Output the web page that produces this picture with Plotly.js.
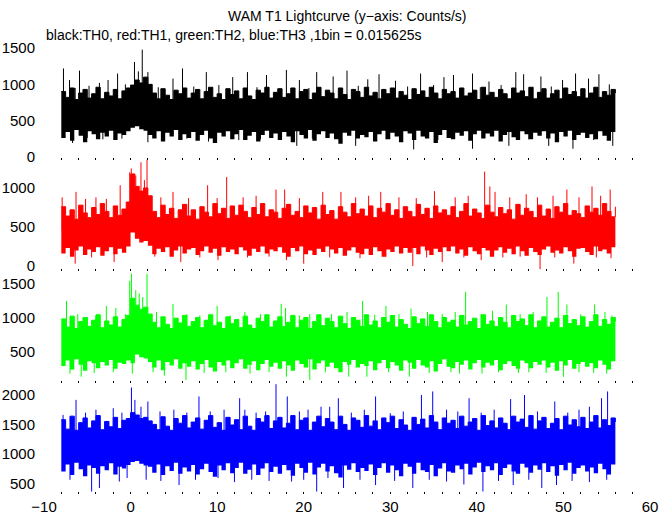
<!DOCTYPE html>
<html>
<head>
<meta charset="utf-8">
<script src="https://cdn.plot.ly/plotly-3.0.1.min.js"></script>
<style>html,body{margin:0;padding:0;background:#fff;}#chart{width:672px;height:515px;}</style>
</head>
<body>
<div id="chart"></div>
<script>
// Time bins: envelopes sampled every 0.5 s starting at -8 s
const binStart = -8;
const binWidth = 0.5;

// ---- TH0 (black) ----
const th0Hi = [900,820,950,790,880,930,810,870,960,800,
  890,840,930,800,910,950,990,1060,1020,1100,
  1000,880,800,940,850,790,920,870,950,810,
  880,930,800,900,960,820,870,790,940,860,
  910,800,950,840,790,920,880,960,810,890,
  940,820,870,950,800,900,930,790,880,960,
  830,920,880,800,950,860,790,930,900,820,
  960,840,890,800,930,870,950,810,900,850,
  790,940,860,910,820,960,880,800,930,870,
  900,810,950,840,880,920,790,960,850,890,
  820,930,870,800,950,880,910,830,960,800,
  890,940,810,870,920,800,950,860,900,830,
  940,810,880,960,820,900,850,930,880];
const th0Lo = [260,340,220,370,290,200,350,310,240,330,
  280,360,230,320,300,350,400,420,380,360,
  300,250,350,210,330,280,370,230,310,260,
  340,220,300,360,250,190,330,280,350,240,
  310,370,230,290,340,210,300,360,260,320,
  230,340,280,200,350,300,250,370,220,310,
  350,260,320,240,180,330,290,360,250,300,
  270,340,210,310,360,240,330,280,200,350,
  320,230,360,280,250,340,190,300,370,260,
  240,330,290,350,220,310,360,250,320,280,
  360,210,300,340,270,230,350,310,240,330,
  290,350,250,320,200,340,280,360,230,300,
  330,260,310,240,350,290,220,340,300];
const th0SpikeT = [-7.75,-7.05,-6.4,-5.9,-4.8,-3.6,-2.6,-1.5,-0.6,0.45,0.9,1.35,2.0,3.2,4.9,6.0,7.3,8.75,10.2,11.8,13.5,14.6,15.7,18.0,19.5,20.6,21.5,23.4,25.0,26.3,27.4,28.7,30.6,32.0,33.5,35.0,36.2,37.3,39.5,40.4,41.4,42.8,44.5,45.4,47.4,48.6,49.9,51.4,52.9,54.1,55.3];
const th0SpikeV = [1220,1060,950,1190,980,1020,1060,1150,1000,1310,1180,1480,1170,960,1080,1220,970,1170,990,1100,1170,960,1130,1200,1060,950,1170,1110,1190,980,1070,1140,1050,970,1150,990,1100,1130,1150,960,1040,990,1170,1140,1110,970,1060,1150,1080,1140,1000];
const th0DipT = [-6.7,-5.0,-3.2,-1.0,2.0,3.6,6.5,9.0,12.5,15.0,19.2,21.0,26.0,29.5,32.7,35.5,39.5,43.7,46.0,48.3,51.1,53.5,55.7];
const th0DipV = [190,260,240,250,200,230,250,210,230,240,150,250,150,240,100,230,110,150,240,150,110,230,150];

// ---- TH1 (red) ----
const th1Hi = [760,640,720,600,780,680,620,750,660,800,
  700,620,770,650,730,820,1180,1020,960,1000,
  900,700,620,780,660,740,610,720,790,640,
  720,600,760,690,630,800,670,740,610,770,
  650,780,700,620,750,660,800,630,720,690,
  610,740,790,650,700,620,770,680,750,600,
  780,660,710,600,760,690,630,800,670,730,
  640,770,620,740,690,800,650,720,610,760,
  700,630,790,660,740,610,770,680,720,650,
  760,620,700,800,640,730,680,610,780,690,
  630,750,670,720,600,790,650,740,700,620,
  780,640,730,610,760,690,800,650,710,670,
  620,770,690,740,650,800,700,630,760];
const th1Lo = [160,230,120,200,250,140,210,180,240,130,
  190,240,150,220,170,250,430,350,300,320,
  260,150,220,180,240,120,200,250,160,210,
  230,140,190,250,170,220,130,240,180,210,
  150,240,200,130,220,180,250,160,210,190,
  240,170,120,230,190,250,150,200,140,220,
  180,250,210,160,230,130,200,240,170,150,
  220,140,240,190,120,210,180,250,160,230,
  170,230,150,250,200,140,220,180,240,190,
  250,160,210,130,240,190,150,230,200,120,
  200,240,170,220,150,250,190,130,230,180,
  140,210,250,170,200,160,240,190,120,220,
  230,180,140,250,190,210,160,240,200];
const th1SpikeT = [-7.9,-6.3,-5.2,-4.0,-2.8,-1.2,-0.1,0.08,0.6,1.2,1.6,1.9,3.5,4.9,6.7,8.9,10.0,11.1,13.0,14.5,16.8,17.8,19.5,22.2,24.3,26.0,27.5,28.9,31.0,33.0,35.1,37.5,39.0,40.9,41.5,42.1,43.8,45.7,47.0,48.8,50.4,51.8,53.3,54.3,55.4];
const th1SpikeV = [880,950,860,880,860,1035,1200,1250,1160,1330,1100,1360,880,950,870,1035,870,1140,880,900,980,980,870,950,950,880,900,950,880,870,960,880,900,1210,1020,950,880,920,880,900,980,880,1020,900,980];
const th1DipT = [-6.4,-4.5,-1.9,2.8,5.8,8.0,10.1,13.5,16.0,18.0,20.0,23.0,26.5,29.5,32.6,34.2,36.0,38.5,40.5,43.0,45.0,47.3,49.0,51.2,53.8,55.5];
const th1DipV = [30,110,50,120,50,110,75,110,120,75,30,110,100,120,0,110,50,110,75,110,120,-40,110,30,110,100];

// ---- TH2 (green) ----
const th2Hi = [980,860,1020,840,940,1000,870,960,1040,850,
  950,890,1010,860,970,1030,1280,1180,1120,1150,
  1050,930,850,1010,900,840,990,920,1030,870,
  940,1000,850,960,1040,880,930,840,1010,910,
  970,850,1020,890,840,990,940,1040,860,950,
  1010,870,930,1030,850,960,1000,840,940,1040,
  880,990,940,850,1020,910,840,1000,960,870,
  1040,890,950,850,1000,930,1030,860,970,900,
  840,1010,910,980,870,1040,940,850,1000,930,
  960,860,1030,890,940,990,840,1040,900,950,
  870,1000,930,850,1030,940,980,880,1040,850,
  950,1010,860,930,990,850,1030,910,970,880,
  1010,860,940,1040,870,970,900,1000,940];
const th2Lo = [290,370,240,390,310,220,360,330,260,350,
  300,380,250,340,320,370,330,460,420,400,
  350,270,370,230,350,300,390,250,330,280,
  360,240,320,380,270,210,350,300,370,260,
  330,390,250,310,360,230,320,380,280,340,
  250,360,300,220,370,320,270,390,240,330,
  370,280,340,260,200,350,310,380,270,320,
  290,360,230,330,380,260,350,300,220,370,
  340,250,380,300,270,360,210,320,390,280,
  260,350,310,370,240,330,380,270,340,300,
  380,230,320,360,290,250,370,330,260,350,
  310,370,270,340,220,360,300,380,250,320,
  350,280,330,260,370,310,240,360,320];
const th2SpikeT = [-7.4,-6.1,-5.0,-4.0,-2.8,-1.7,-0.6,-0.1,0.1,0.6,1.0,1.4,1.9,3.0,4.9,6.5,8.0,10.0,11.5,13.2,15.0,17.4,17.9,19.5,20.7,23.2,25.0,26.8,28.2,29.5,31.0,32.4,34.3,36.0,37.5,38.7,40.5,41.8,43.4,45.0,46.5,48.1,49.4,50.4,52.0,53.6,54.8,55.6];
const th2SpikeV = [1244,1050,1000,1020,1170,1140,1050,1537,1640,1400,1350,1300,1640,1080,1200,1050,1030,1170,1030,1080,1050,1200,1140,1030,1050,1050,1080,1244,1040,1170,1050,1130,1080,1050,1080,1375,1050,1100,1190,1050,1080,1300,1375,1190,1050,1190,1080,1030];
const th2DipT = [-7.0,-5.7,-4.2,-2.0,0.2,2.6,3.9,6.4,8.5,11.0,13.8,16.0,18.0,20.7,22.5,25.2,27.3,29.8,32.2,34.5,37.0,38.0,40.6,42.5,44.8,46.0,48.0,50.0,51.8,53.5,55.0];
const th2DipV = [180,135,190,200,180,200,150,86,190,200,180,200,135,86,200,135,135,200,135,190,200,180,180,200,190,200,190,135,200,190,180];

// ---- TH3 (blue) ----
const th3Hi = [1580,1420,1640,1400,1530,1610,1440,1560,1650,1410,
  1550,1460,1620,1430,1570,1600,1700,1660,1600,1620,
  1560,1500,1410,1630,1470,1400,1600,1520,1650,1440,
  1540,1610,1420,1570,1650,1450,1530,1400,1620,1490,
  1580,1410,1640,1470,1400,1600,1540,1650,1430,1560,
  1620,1440,1520,1650,1410,1570,1610,1400,1540,1640,
  1460,1600,1540,1410,1640,1500,1400,1610,1570,1450,
  1650,1470,1560,1410,1610,1530,1640,1430,1580,1490,
  1400,1620,1500,1590,1440,1650,1540,1410,1610,1520,
  1570,1430,1640,1470,1540,1600,1400,1650,1480,1560,
  1440,1610,1520,1410,1640,1540,1590,1450,1650,1420,
  1560,1620,1430,1520,1600,1410,1640,1490,1580,1460,
  1620,1430,1540,1650,1440,1580,1480,1610,1540];
const th3Lo = [700,820,640,850,740,620,800,760,660,790,
  720,840,650,780,750,810,860,880,830,800,
  780,680,820,640,790,710,850,660,770,700,
  810,650,740,830,690,610,800,720,840,670,
  760,850,660,730,820,640,750,840,690,780,
  660,810,720,630,830,760,680,850,650,770,
  830,700,790,670,600,800,730,840,690,760,
  710,820,640,760,840,680,800,720,620,830,
  780,660,850,720,690,810,620,750,840,700,
  680,800,740,830,650,770,850,690,790,720,
  840,640,760,820,700,660,830,770,680,800,
  730,840,690,790,630,810,720,850,660,760,
  800,700,770,670,830,740,650,820,760];
const th3SpikeT = [-7.8,-6.3,-5.2,-4.0,-2.0,-1.0,0.1,0.5,1.2,2.0,3.4,5.0,6.5,7.9,9.2,10.8,12.6,13.2,14.5,15.6,16.8,18.1,19.5,20.5,22.0,23.0,24.0,25.5,27.0,28.3,30.0,31.5,33.6,34.9,36.5,37.8,39.1,40.5,42.0,43.9,45.5,47.0,49.0,50.5,51.8,53.0,54.4,55.1];
const th3SpikeV = [1662,1917,1700,1750,1775,1700,2127,1917,1800,1890,1720,1750,1700,1975,1720,1750,1945,1750,1700,1720,2183,1975,1720,1750,1800,1800,1945,1700,1750,1975,1690,1720,2000,2060,1750,1720,1945,1700,1750,1930,2000,1720,1890,1700,1750,1800,1945,2060];
const th3DipT = [-7.0,-4.5,-3.6,-1.3,-0.4,1.8,3.5,5.6,7.5,10.1,12.0,14.0,16.0,18.6,20.0,21.5,22.8,24.6,26.5,28.3,30.5,32.6,34.5,36.5,38.5,40.7,42.5,44.2,46.0,47.5,49.2,51.0,53.0,55.0];
const th3DipV = [560,360,420,530,590,560,540,470,560,590,520,560,540,530,560,360,590,420,560,470,540,420,560,530,480,360,540,470,560,420,470,540,520,560];

// ---- axes ----
const yTicks = [[0,500,1000,1500],[0,500,1000],[500,1000,1500],[500,1000,1500,2000]];
const yRanges = [[-39,1503],[-64,1365],[50,1680],[318,2212]];
const xTickVals = [-10,0,10,20,30,40,50,60];
const titleText = "WAM T1 Lightcurve (y\u2212axis: Counts/s)";
const subText = "black:TH0, red:TH1, green:TH2, blue:TH3 ,1bin = 0.015625s";

const panels = [
  {hi: th0Hi, lo: th0Lo, st: th0SpikeT, sv: th0SpikeV, dt: th0DipT, dv: th0DipV, color: '#000000'},
  {hi: th1Hi, lo: th1Lo, st: th1SpikeT, sv: th1SpikeV, dt: th1DipT, dv: th1DipV, color: '#ff0000'},
  {hi: th2Hi, lo: th2Lo, st: th2SpikeT, sv: th2SpikeV, dt: th2DipT, dv: th2DipV, color: '#00ff00'},
  {hi: th3Hi, lo: th3Lo, st: th3SpikeT, sv: th3SpikeV, dt: th3DipT, dv: th3DipV, color: '#0000ff'}
];

const traces = [];
const layout = {
  width: 672, height: 515,
  margin: {l: 44, r: 22, t: 48, b: 21},
  paper_bgcolor: '#ffffff', plot_bgcolor: '#ffffff',
  showlegend: false,
  font: {family: 'Liberation Sans, Arial, sans-serif', size: 15, color: '#000'},
  annotations: [
    {text: titleText, xref: 'paper', yref: 'paper', x: 0.5, y: 1, xanchor: 'center', yanchor: 'middle', yshift: 32, showarrow: false, font: {size: 14}},
    {text: subText, xref: 'paper', yref: 'paper', x: 0, y: 1, xanchor: 'left', yanchor: 'middle', yshift: 13, showarrow: false, font: {size: 14}}
  ]
};

panels.forEach((p, k) => {
  const n = k + 1;
  const xa = n === 1 ? 'x' : 'x' + n;
  const ya = n === 1 ? 'y' : 'y' + n;
  const t = p.hi.map((_, i) => binStart + i * binWidth);
  const mid = (p.hi.reduce((a, b) => a + b, 0) + p.lo.reduce((a, b) => a + b, 0)) / (2 * p.hi.length);
  traces.push({x: t, y: p.lo, xaxis: xa, yaxis: ya, mode: 'lines', line: {width: 0, shape: 'hv', color: p.color}, hoverinfo: 'skip'});
  traces.push({x: t, y: p.hi, xaxis: xa, yaxis: ya, mode: 'lines', fill: 'tonexty', fillcolor: p.color, line: {width: 1, shape: 'hv', color: p.color}, hoverinfo: 'skip'});
  const sx = [], sy = [];
  p.st.forEach((tt, i) => { sx.push(tt, tt, null); sy.push(mid, p.sv[i], null); });
  p.dt.forEach((tt, i) => { sx.push(tt, tt, null); sy.push(mid, p.dv[i], null); });
  traces.push({x: sx, y: sy, xaxis: xa, yaxis: ya, mode: 'lines', line: {width: 1, color: p.color}, hoverinfo: 'skip', connectgaps: false});

  const top = 1 - k * 0.25, bot = 1 - (k + 1) * 0.25;
  layout[n === 1 ? 'xaxis' : 'xaxis' + n] = {
    anchor: ya, domain: [0, 1], range: [-10, 60],
    showgrid: false, zeroline: false, showline: false,
    tickmode: 'array', tickvals: xTickVals,
    showticklabels: n === 4,
    ticks: 'inside', ticklen: 2, tickwidth: 1, tickcolor: '#000',
    minor: {dtick: 2, tick0: 0, ticks: 'inside', ticklen: 2, tickwidth: 1, tickcolor: '#000'},
    tickfont: {size: 15}, ticklabelstandoff: 2
  };
  layout[n === 1 ? 'yaxis' : 'yaxis' + n] = {
    anchor: xa, domain: [bot, top], range: yRanges[k],
    showgrid: false, zeroline: false, showline: false,
    tickmode: 'array', tickvals: yTicks[k], ticks: '',
    tickfont: {size: 15}, ticklabelstandoff: 8
  };
});

Plotly.newPlot('chart', traces, layout, {displayModeBar: false, staticPlot: true});
</script>
</body>
</html>
